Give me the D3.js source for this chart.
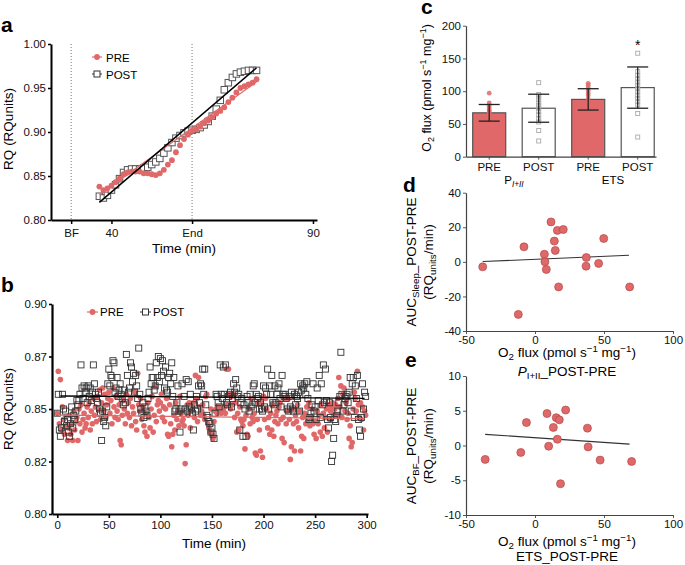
<!DOCTYPE html>
<html>
<head>
<meta charset="utf-8">
<script src="https://cdn.jsdelivr.net/npm/d3@7"></script>
<style>
  body { margin: 0; background: #fff; }
  svg { font-family: "Liberation Sans", Arial, Helvetica, sans-serif; }
</style>
</head>
<body>
<script>
// ---- data ----

// panel a: RQ per minute during test, first sample at minute 37
const aStart = 37;
const aPre = [0.838, 0.834, 0.836, 0.839, 0.843, 0.847, 0.852, 0.854, 0.855, 0.855,
              0.855, 0.853, 0.853, 0.852, 0.851, 0.853, 0.857, 0.863, 0.868, 0.877,
              0.885, 0.892, 0.897, 0.901, 0.903, 0.906, 0.910, 0.913, 0.917, 0.921,
              0.924, 0.928, 0.934, 0.939, 0.945, 0.950, 0.952, 0.954, 0.956, 0.960];
const aPost = [0.827, 0.825, 0.828, 0.834, 0.840, 0.847, 0.854, 0.857, 0.858, 0.858,
               0.858, 0.859, 0.860, 0.863, 0.866, 0.870, 0.876, 0.882, 0.888, 0.893,
               0.896, 0.899, 0.901, 0.902, 0.903, 0.905, 0.908, 0.912, 0.918, 0.926,
               0.936, 0.948, 0.956, 0.962, 0.966, 0.968, 0.969, 0.970, 0.970, 0.970];
const aFitPre = [[37, 0.829], [76, 0.957]];
const aFitPost = [[37, 0.820], [76, 0.973]];
const aTicks = [30, 40, 60, 90];
const aTickLabels = ["BF", "40", "End", "90"];

// panel b: RQ per minute during sleep, minute 0..299
const bPre = [
  0.848, 0.868, 0.843, 0.864, 0.840, 0.851, 0.845, 0.838, 0.846, 0.842,
  0.835, 0.841, 0.847, 0.838, 0.843, 0.835, 0.849, 0.840, 0.844, 0.846,
  0.835, 0.850, 0.843, 0.852, 0.839, 0.845, 0.848, 0.841, 0.843, 0.851,
  0.846, 0.853, 0.840, 0.849, 0.843, 0.855, 0.847, 0.851, 0.844, 0.856,
  0.850, 0.859, 0.845, 0.853, 0.860, 0.849, 0.857, 0.846, 0.852, 0.855,
  0.858, 0.848, 0.854, 0.843, 0.860, 0.851, 0.846, 0.856, 0.849, 0.845,
  0.852, 0.835, 0.833, 0.847, 0.854, 0.850, 0.843, 0.857, 0.848, 0.853,
  0.846, 0.855, 0.842, 0.851, 0.848, 0.858, 0.844, 0.840, 0.867, 0.852,
  0.849, 0.855, 0.845, 0.851, 0.842, 0.839, 0.848, 0.837, 0.853, 0.846,
  0.841, 0.850, 0.856, 0.839, 0.847, 0.861, 0.844, 0.852, 0.854, 0.849,
  0.853, 0.857, 0.846, 0.851, 0.844, 0.850, 0.855, 0.838, 0.837, 0.852,
  0.843, 0.832, 0.838, 0.847, 0.840, 0.853, 0.845, 0.849, 0.842, 0.856,
  0.848, 0.844, 0.845, 0.842, 0.824, 0.833, 0.852, 0.847, 0.853, 0.841,
  0.849, 0.850, 0.853, 0.846, 0.866, 0.855, 0.844, 0.865, 0.851, 0.847,
  0.849, 0.852, 0.847, 0.845, 0.856, 0.857, 0.843, 0.841, 0.839, 0.850,
  0.838, 0.836, 0.844, 0.849, 0.850, 0.848, 0.851, 0.849, 0.850, 0.848,
  0.850, 0.849, 0.851, 0.848, 0.869, 0.852, 0.869, 0.857, 0.850, 0.856,
  0.852, 0.857, 0.846, 0.853, 0.839, 0.848, 0.840, 0.851, 0.845, 0.844,
  0.842, 0.845, 0.831, 0.847, 0.838, 0.837, 0.850, 0.843, 0.855, 0.846,
  0.844, 0.848, 0.829, 0.828, 0.845, 0.853, 0.840, 0.830, 0.853, 0.827,
  0.856, 0.845, 0.855, 0.850, 0.841, 0.846, 0.838, 0.848, 0.840, 0.852,
  0.837, 0.844, 0.847, 0.849, 0.843, 0.851, 0.853, 0.845, 0.836, 0.846,
  0.834, 0.855, 0.843, 0.849, 0.855, 0.845, 0.826, 0.832, 0.850, 0.843,
  0.830, 0.847, 0.844, 0.852, 0.841, 0.849, 0.830, 0.837, 0.846, 0.836,
  0.848, 0.843, 0.851, 0.844, 0.853, 0.842, 0.846, 0.850, 0.843, 0.838,
  0.844, 0.836, 0.849, 0.843, 0.847, 0.839, 0.852, 0.837, 0.848, 0.841,
  0.846, 0.850, 0.839, 0.852, 0.845, 0.849, 0.851, 0.853, 0.847, 0.850,
  0.852, 0.847, 0.855, 0.865, 0.851, 0.861, 0.846, 0.857, 0.860, 0.849,
  0.853, 0.845, 0.848, 0.836, 0.842, 0.832, 0.834, 0.850, 0.858, 0.855,
  0.849, 0.868, 0.852, 0.846, 0.853, 0.845, 0.851, 0.840, 0.849, 0.847];
const bPost = [
  0.848, 0.857, 0.840, 0.837, 0.841, 0.857, 0.850, 0.844, 0.849, 0.842,
  0.845, 0.839, 0.837, 0.843, 0.851, 0.841, 0.847, 0.845, 0.849, 0.854,
  0.852, 0.854, 0.857, 0.871, 0.860, 0.855, 0.861, 0.858, 0.860, 0.853,
  0.861, 0.856, 0.860, 0.854, 0.858, 0.871, 0.862, 0.857, 0.855, 0.853,
  0.858, 0.850, 0.848, 0.835, 0.849, 0.844, 0.846, 0.842, 0.851, 0.862,
  0.869, 0.861, 0.866, 0.865, 0.873, 0.872, 0.858, 0.860, 0.865, 0.856,
  0.859, 0.862, 0.857, 0.855, 0.852, 0.859, 0.853, 0.876, 0.866, 0.858,
  0.860, 0.872, 0.870, 0.863, 0.867, 0.858, 0.866, 0.861, 0.855, 0.879,
  0.857, 0.850, 0.848, 0.853, 0.846, 0.851, 0.849, 0.847, 0.855, 0.858,
  0.870, 0.862, 0.865, 0.865, 0.859, 0.861, 0.872, 0.865, 0.875, 0.863,
  0.874, 0.866, 0.873, 0.868, 0.860, 0.870, 0.859, 0.858, 0.865, 0.867,
  0.862, 0.872, 0.856, 0.865, 0.849, 0.850, 0.853, 0.861, 0.849, 0.839,
  0.850, 0.862, 0.848, 0.856, 0.850, 0.864, 0.849, 0.863, 0.851, 0.857,
  0.850, 0.848, 0.840, 0.852, 0.849, 0.856, 0.850, 0.861, 0.853, 0.862,
  0.861, 0.869, 0.857, 0.869, 0.852, 0.847, 0.846, 0.844, 0.843, 0.839,
  0.841, 0.838, 0.836, 0.848, 0.857, 0.856, 0.853, 0.851, 0.871, 0.857,
  0.855, 0.870, 0.857, 0.871, 0.853, 0.852, 0.856, 0.857, 0.858, 0.851,
  0.855, 0.862, 0.858, 0.864, 0.860, 0.856, 0.857, 0.840, 0.853, 0.855,
  0.837, 0.852, 0.850, 0.837, 0.856, 0.853, 0.849, 0.857, 0.851, 0.852,
  0.861, 0.862, 0.853, 0.857, 0.855, 0.856, 0.850, 0.853, 0.850, 0.849,
  0.861, 0.851, 0.860, 0.857, 0.869, 0.850, 0.861, 0.857, 0.866, 0.853,
  0.852, 0.861, 0.853, 0.857, 0.860, 0.862, 0.855, 0.851, 0.866, 0.857,
  0.856, 0.857, 0.855, 0.850, 0.849, 0.856, 0.851, 0.858, 0.850, 0.849,
  0.857, 0.852, 0.856, 0.855, 0.858, 0.849, 0.862, 0.859, 0.861, 0.860,
  0.862, 0.857, 0.863, 0.855, 0.845, 0.846, 0.848, 0.852, 0.862, 0.849,
  0.851, 0.845, 0.860, 0.854, 0.866, 0.846, 0.862, 0.852, 0.871, 0.853,
  0.869, 0.854, 0.845, 0.841, 0.853, 0.846, 0.825, 0.828, 0.836, 0.845,
  0.844, 0.847, 0.849, 0.853, 0.856, 0.877, 0.857, 0.849, 0.852, 0.855,
  0.856, 0.857, 0.853, 0.858, 0.865, 0.849, 0.862, 0.865, 0.846, 0.861,
  0.855, 0.866, 0.845, 0.840, 0.837, 0.846, 0.862, 0.850, 0.858, 0.856];
const bFitPre = [[3, 0.8471], [298, 0.8454]];
const bFitPost = [[3, 0.8562], [298, 0.8551]];
const bTicks = [0.8, 0.825, 0.85, 0.875, 0.9];
const bTickLabels = ["0.80", "0.82", "0.85", "0.87", "0.90"];

// panel c: O2 flux, bars = mean, whiskers = SD
const cGroups = ["PRE", "POST", "PRE", "POST"];
const cMeans = [67, 74, 87.5, 105.5];
const cSD = [12.7, 21.4, 16.3, 31.5];
const cPre1 = [97, 82, 78, 75, 72, 70, 68, 66, 64, 62, 60, 57, 53, 50];
const cPost1 = [113, 95, 91, 87, 82, 78, 74, 69, 64, 58, 53, 40, 24];
const cPre2 = [112, 109, 105, 101, 97, 93, 88, 84, 80, 75, 70, 66, 62];
const cPost2 = [158, 130, 124, 119, 114, 109, 104, 99, 94, 89, 84, 79, 66, 30];

// panel d: delta P(I+II) vs delta AUC sleep
const dX = [-37.9, -12.1, -8.0, 6.8, 7.2, 8.2, 11.6, 14.0, 14.7, 16.2, 17.1, 20.5, 37.2, 37.0, 46.1, 49.8, 68.6];
const dY = [-2.9, -30.4, 8.7, 4.4, 0.0, -4.4, 23.1, 12.0, 6.6, 18.2, -14.5, 18.7, 2.5, -2.5, -0.9, 13.5, -14.5];
const dFit = [[-37.9, 0.2], [68.1, 3.8]];

// panel e: delta ETS vs delta AUC BF
const eX = [-36.1, -10.3, -6.2, 8.7, 9.9, 13.3, 15.4, 16.2, 17.6, 18.5, 22.2, 38.0, 38.5, 47.2, 70.0];
const eY = [-2.0, -1.0, 3.3, 4.6, -0.1, 2.6, 4.0, 0.9, 3.7, -5.5, 5.1, 2.5, -0.2, -2.1, -2.3];
const eFit = [[-36.1, 1.6], [68.5, 0.2]];

// ---- styles ----
const pink = "#e06868";
const fontTick = 11.5, fontLabel = 13.5;

const svg = d3.select("body").append("svg")
    .attr("width", 685)
    .attr("height", 565);

const styleAxis = (g, w, color) => {
  g.attr("font-family", null).attr("font-size", fontTick);
  g.select(".domain").attr("stroke", color).attr("stroke-width", w);
  g.selectAll(".tick line").attr("stroke", color).attr("stroke-width", w * 0.75);
  g.selectAll(".tick text").attr("fill", "#111");
};

// text with sub/superscripts, shifts done with dy
const richText = (sel, parts, fs) => {
  let prev = 0;
  parts.forEach(p => {
    const off = p.sub ? 0.25 * fs : p.sup ? -0.4 * fs : 0;
    const t = sel.append("tspan").attr("dy", off - prev).text(p.t);
    prev = off;
    if (p.sub || p.sup) t.attr("font-size", fs * 0.72);
    if (p.i) t.attr("font-style", "italic");
  });
  return sel;
};

const panelLetter = (x, y, s) => svg.append("text")
    .attr("x", x).attr("y", y)
    .attr("font-size", 21).attr("font-weight", "bold")
    .text(s);

const square = (g, data, xf, yf, size, stroke, fill, sw) => g.selectAll(null)
  .data(data)
  .join("rect")
    .attr("x", d => xf(d) - size / 2)
    .attr("y", d => yf(d) - size / 2)
    .attr("width", size)
    .attr("height", size)
    .attr("fill", fill)
    .attr("stroke", stroke)
    .attr("stroke-width", sw);

const o2Label = [{t: "O"}, {t: "2", sub: 1}, {t: " flux (pmol s"}, {t: "\u22121", sup: 1},
                 {t: " mg"}, {t: "\u22121", sup: 1}, {t: ")"}];

// ================= panel a =================
const xa = d3.scaleLinear().domain([25, 91]).range([51, 317]);
const ya = d3.scaleLinear().domain([0.80, 1.00]).range([220, 44]);
const ga = svg.append("g");

panelLetter(1, 32, "a");

// BF / End markers
ga.selectAll(".vline")
  .data([30, 60])
  .join("line")
    .attr("x1", d => xa(d)).attr("x2", d => xa(d))
    .attr("y1", ya(1.0)).attr("y2", ya(0.8))
    .attr("stroke", "#777")
    .attr("stroke-width", 1)
    .attr("stroke-dasharray", "1,2");

square(ga, aPost.map((v, i) => [aStart + i, v]), d => xa(d[0]), d => ya(d[1]), 6.5, "#555", "#fff", 1);

ga.selectAll(".pre")
  .data(aPre.map((v, i) => [aStart + i, v]))
  .join("circle")
    .attr("cx", d => xa(d[0]))
    .attr("cy", d => ya(d[1]))
    .attr("r", 2.9)
    .attr("fill", pink);

const line = (xs, ys) => d3.line().x(d => xs(d[0])).y(d => ys(d[1]));
ga.append("path").attr("d", line(xa, ya)(aFitPre)).attr("stroke", pink).attr("stroke-width", 1.3).attr("fill", "none");
ga.append("path").attr("d", line(xa, ya)(aFitPost)).attr("stroke", "#000").attr("stroke-width", 1.5).attr("fill", "none");

ga.append("g")
    .attr("transform", `translate(0,${ya(0.8)})`)
    .call(d3.axisBottom(xa).tickValues(aTicks).tickFormat((d, i) => aTickLabels[i]).tickSize(4).tickPadding(5).tickSizeOuter(0))
    .call(g => styleAxis(g, 2, "#000"));
ga.append("g")
    .attr("transform", `translate(${xa(25)},0)`)
    .call(d3.axisLeft(ya).tickValues([0.8, 0.85, 0.9, 0.95, 1.0]).tickFormat(d3.format(".2f")).tickSize(3).tickPadding(2).tickSizeOuter(0))
    .call(g => styleAxis(g, 2, "#000"));

ga.append("text")
    .attr("x", 184).attr("y", 253)
    .attr("text-anchor", "middle").attr("font-size", fontLabel)
    .text("Time (min)");
ga.append("text")
    .attr("transform", "translate(13,129) rotate(-90)")
    .attr("text-anchor", "middle").attr("font-size", fontLabel)
    .text("RQ (RQunits)");

// legend a
const legA = ga.append("g").attr("font-size", fontTick);
legA.append("line").attr("x1", 92).attr("x2", 102).attr("y1", 57).attr("y2", 57).attr("stroke", pink).attr("stroke-width", 1.2);
legA.append("circle").attr("cx", 97).attr("cy", 57).attr("r", 2.9).attr("fill", pink);
legA.append("text").attr("x", 106).attr("y", 61.5).text("PRE");
legA.append("line").attr("x1", 92).attr("x2", 102).attr("y1", 74).attr("y2", 74).attr("stroke", "#333").attr("stroke-width", 1);
legA.append("rect").attr("x", 94).attr("y", 71).attr("width", 6).attr("height", 6).attr("fill", "#fff").attr("stroke", "#333");
legA.append("text").attr("x", 106).attr("y", 78.5).text("POST");

// ================= panel b =================
const xb = d3.scaleLinear().domain([-5.1, 301.3]).range([52, 368]);
const yb = d3.scaleLinear().domain([0.80, 0.90]).range([514, 304]);
const gb = svg.append("g");

panelLetter(1, 292, "b");

gb.selectAll(".pre")
  .data(bPre.map((v, i) => [i, v]))
  .join("circle")
    .attr("cx", d => xb(d[0]))
    .attr("cy", d => yb(d[1]))
    .attr("r", 2.8)
    .attr("fill", pink);

square(gb, bPost.map((v, i) => [i, v]), d => xb(d[0]), d => yb(d[1]), 6, "#333", "none", 0.9);

gb.append("path").attr("d", line(xb, yb)(bFitPre)).attr("stroke", pink).attr("stroke-width", 1.2).attr("fill", "none");
gb.append("path").attr("d", line(xb, yb)(bFitPost)).attr("stroke", "#000").attr("stroke-width", 1.3).attr("fill", "none");

gb.append("g")
    .attr("transform", `translate(0,${yb(0.8)})`)
    .call(d3.axisBottom(xb).tickValues([0, 50, 100, 150, 200, 250, 300]).tickSize(4).tickPadding(3).tickSizeOuter(0))
    .call(g => styleAxis(g, 2.2, "#000"));
gb.append("g")
    .attr("transform", `translate(${xb.range()[0]},0)`)
    .call(d3.axisLeft(yb).tickValues(bTicks).tickFormat((d, i) => bTickLabels[i]).tickSize(3).tickPadding(2).tickSizeOuter(0))
    .call(g => styleAxis(g, 2.2, "#000"));

gb.append("text")
    .attr("x", 214).attr("y", 548)
    .attr("text-anchor", "middle").attr("font-size", fontLabel)
    .text("Time (min)");
gb.append("text")
    .attr("transform", "translate(13,409) rotate(-90)")
    .attr("text-anchor", "middle").attr("font-size", fontLabel)
    .text("RQ (RQunits)");

// legend b
const legB = gb.append("g").attr("font-size", fontTick);
legB.append("line").attr("x1", 87).attr("x2", 98).attr("y1", 312).attr("y2", 312).attr("stroke", pink).attr("stroke-width", 1.2);
legB.append("circle").attr("cx", 92.5).attr("cy", 312).attr("r", 2.9).attr("fill", pink);
legB.append("text").attr("x", 100).attr("y", 316.3).text("PRE");
legB.append("line").attr("x1", 140).attr("x2", 151).attr("y1", 312).attr("y2", 312).attr("stroke", "#333").attr("stroke-width", 1);
legB.append("rect").attr("x", 142.5).attr("y", 309).attr("width", 6).attr("height", 6).attr("fill", "#fff").attr("stroke", "#333");
legB.append("text").attr("x", 153).attr("y", 316.3).text("POST");

// ================= panel c =================
const xc = d3.scaleBand().domain(d3.range(cGroups.length)).range([466, 656])
    .paddingInner(0.333).paddingOuter(0.0856).align(0.79);
const yc = d3.scaleLinear().domain([0, 200]).range([156.7, 25.7]);
const gc = svg.append("g");
const cx = i => xc(i) + xc.bandwidth() / 2;

panelLetter(421, 13.5, "c");

gc.selectAll(".bar")
  .data(cMeans)
  .join("rect")
    .attr("x", (d, i) => xc(i))
    .attr("y", d => yc(d))
    .attr("width", xc.bandwidth())
    .attr("height", d => yc(0) - yc(d))
    .attr("fill", (d, i) => i % 2 === 0 ? pink : "#fff")
    .attr("stroke", "#555")
    .attr("stroke-width", 1.2);

// individual values
[cPre1, cPost1, cPre2, cPost2].forEach((vals, i) => {
  if (i % 2 === 0) {
    gc.selectAll(null)
      .data(vals)
      .join("circle")
        .attr("cx", cx(i))
        .attr("cy", d => yc(d))
        .attr("r", 2.4)
        .attr("fill", pink)
        .attr("opacity", 0.85);
  } else {
    square(gc, vals, () => cx(i), d => yc(d), 4, "#aaa", "none", 0.9);
  }
});

// SD whiskers
cMeans.forEach((m, i) => {
  const eb = gc.append("g").attr("stroke", "#222").attr("stroke-width", 1.3);
  eb.append("line").attr("x1", cx(i)).attr("x2", cx(i)).attr("y1", yc(m - cSD[i])).attr("y2", yc(m + cSD[i]));
  [m - cSD[i], m + cSD[i]].forEach(v => {
    eb.append("line").attr("x1", cx(i) - 10.5).attr("x2", cx(i) + 10.5).attr("y1", yc(v)).attr("y2", yc(v));
  });
});

gc.append("text")
    .attr("x", cx(3)).attr("y", yc(163))
    .attr("text-anchor", "middle").attr("font-size", 14)
    .text("*");

gc.append("g")
    .attr("transform", `translate(0,${yc(0)})`)
    .call(d3.axisBottom(xc).tickFormat(i => cGroups[i]).tickSize(3).tickPadding(3).tickSizeOuter(0))
    .call(g => styleAxis(g, 1.2, "#444"));
gc.append("g")
    .attr("transform", `translate(466,0)`)
    .call(d3.axisLeft(yc).tickValues([0, 50, 100, 150, 200]).tickSize(3).tickPadding(2).tickSizeOuter(0))
    .call(g => styleAxis(g, 1.2, "#444"));

richText(gc.append("text")
    .attr("x", (cx(0) + cx(1)) / 2).attr("y", 184)
    .attr("text-anchor", "middle").attr("font-size", fontTick),
  [{t: "P"}, {t: "I+II", sub: 1, i: 1}], fontTick);
gc.append("text")
    .attr("x", (cx(2) + cx(3)) / 2).attr("y", 184)
    .attr("text-anchor", "middle").attr("font-size", fontTick)
    .text("ETS");
richText(gc.append("text")
    .attr("transform", "translate(431,88) rotate(-90)")
    .attr("text-anchor", "middle").attr("font-size", 12.5), o2Label, 12.5);

// ================= panels d and e =================
const scatter = (xs, ys, xv, yv, fit, xTicks, yTicks) => {
  const g = svg.append("g");
  g.append("path").attr("d", line(xs, ys)(fit)).attr("stroke", "#333").attr("stroke-width", 1.1).attr("fill", "none");
  g.selectAll("circle")
    .data(xv.map((x, i) => [x, yv[i]]))
    .join("circle")
      .attr("cx", d => xs(d[0]))
      .attr("cy", d => ys(d[1]))
      .attr("r", 4)
      .attr("fill", pink)
      .attr("stroke", "#b04a4c")
      .attr("stroke-width", 0.7);
  g.append("g")
      .attr("transform", `translate(0,${ys.range()[0]})`)
      .call(d3.axisBottom(xs).tickValues(xTicks).tickFormat(d => String(d)).tickSize(3).tickPadding(2).tickSizeOuter(0))
      .call(a => styleAxis(a, 1.2, "#444"));
  g.append("g")
      .attr("transform", `translate(${xs.range()[0]},0)`)
      .call(d3.axisLeft(ys).tickValues(yTicks).tickFormat(d => String(d)).tickSize(3).tickPadding(2).tickSizeOuter(0))
      .call(a => styleAxis(a, 1.2, "#444"));
  return g;
};

// panel d
const xd = d3.scaleLinear().domain([-50, 100]).range([466, 673]);
const yd = d3.scaleLinear().domain([-40, 40]).range([331, 192.7]);
panelLetter(403, 192, "d");
const gd = scatter(xd, yd, dX, dY, dFit, [-50, 0, 50, 100], [-40, -20, 0, 20, 40]);
richText(gd.append("text").attr("transform", "translate(416,262) rotate(-90)")
    .attr("text-anchor", "middle").attr("font-size", fontLabel),
  [{t: "AUC"}, {t: "Sleep", sub: 1}, {t: "_POST-PRE"}], fontLabel);
richText(gd.append("text").attr("transform", "translate(433,262) rotate(-90)")
    .attr("text-anchor", "middle").attr("font-size", fontLabel),
  [{t: "(RQ"}, {t: "units", sub: 1}, {t: "/min)"}], fontLabel);
richText(gd.append("text").attr("x", 567).attr("y", 357)
    .attr("text-anchor", "middle").attr("font-size", fontLabel), o2Label, fontLabel);
richText(gd.append("text").attr("x", 567).attr("y", 376)
    .attr("text-anchor", "middle").attr("font-size", fontLabel),
  [{t: "P", i: 1}, {t: "I+II", sub: 1}, {t: "_POST-PRE"}], fontLabel);

// panel e
const xe = d3.scaleLinear().domain([-50, 100]).range([466, 673]);
const ye = d3.scaleLinear().domain([-10, 10]).range([515, 376]);
panelLetter(405, 367, "e");
const ge = scatter(xe, ye, eX, eY, eFit, [-50, 0, 50, 100], [-10, -5, 0, 5, 10]);
richText(ge.append("text").attr("transform", "translate(416,446) rotate(-90)")
    .attr("text-anchor", "middle").attr("font-size", fontLabel),
  [{t: "AUC"}, {t: "BF", sub: 1}, {t: "_POST-PRE"}], fontLabel);
richText(ge.append("text").attr("transform", "translate(433,446) rotate(-90)")
    .attr("text-anchor", "middle").attr("font-size", fontLabel),
  [{t: "(RQ"}, {t: "units", sub: 1}, {t: "/min)"}], fontLabel);
richText(ge.append("text").attr("x", 567).attr("y", 546)
    .attr("text-anchor", "middle").attr("font-size", fontLabel), o2Label, fontLabel);
ge.append("text").attr("x", 567).attr("y", 561)
    .attr("text-anchor", "middle").attr("font-size", fontLabel)
    .text("ETS_POST-PRE");
</script>
</body>
</html>
